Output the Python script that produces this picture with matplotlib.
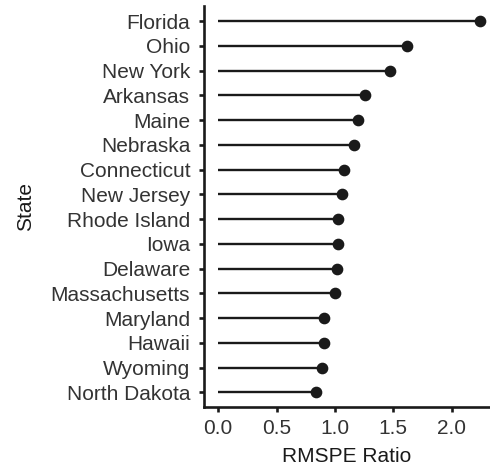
import matplotlib
matplotlib.use("Agg")
import matplotlib.pyplot as plt
import numpy as np

# RMSPE ratio per state (top to bottom)
states = ["Florida", "Ohio", "New York", "Arkansas", "Maine", "Nebraska",
          "Connecticut", "New Jersey", "Rhode Island", "Iowa", "Delaware",
          "Massachusetts", "Maryland", "Hawaii", "Wyoming", "North Dakota"]
ratios = [2.24, 1.62, 1.47, 1.26, 1.20, 1.16,
          1.08, 1.06, 1.03, 1.03, 1.02,
          1.00, 0.91, 0.91, 0.89, 0.84]
x_ticks = [0.0, 0.5, 1.0, 1.5, 2.0]

plt.rcParams['font.family'] = ['Liberation Sans', 'DejaVu Sans']

fig = plt.figure(figsize=(4.9, 4.74), dpi=100)
ax = fig.add_axes([0.416, 0.141, 0.584, 0.8455])

# bottom-most state at y=0
ypos = np.arange(len(states))[::-1]
ax.hlines(ypos, 0, ratios, color='#1a1a1a', linewidth=1.7)
ax.plot(ratios, ypos, 'o', color='#1a1a1a', markersize=7.4)

ax.set_yticks(ypos)
ax.set_yticklabels(states)
ax.set_xticks(x_ticks)
ax.set_xticklabels([f"{t:.1f}" for t in x_ticks])
ax.set_xlim(-0.123, 2.33)
ax.set_ylim(-0.6, len(states) - 0.4)

for side in ['top', 'right']:
    ax.spines[side].set_visible(False)
for side in ['left', 'bottom']:
    ax.spines[side].set_linewidth(1.9)
    ax.spines[side].set_color('#1a1a1a')

ax.tick_params(axis='both', length=3.8, width=1.9, color='#1a1a1a',
               labelsize=15, labelcolor='#333333')
ax.tick_params(axis='y', pad=6)
ax.tick_params(axis='x', pad=5)

ax.set_xlabel("RMSPE Ratio", fontsize=15, color='#1a1a1a', labelpad=6)
ax.set_ylabel("State", fontsize=15, color='#1a1a1a', labelpad=11)

fig.savefig("out.png", dpi=100)
